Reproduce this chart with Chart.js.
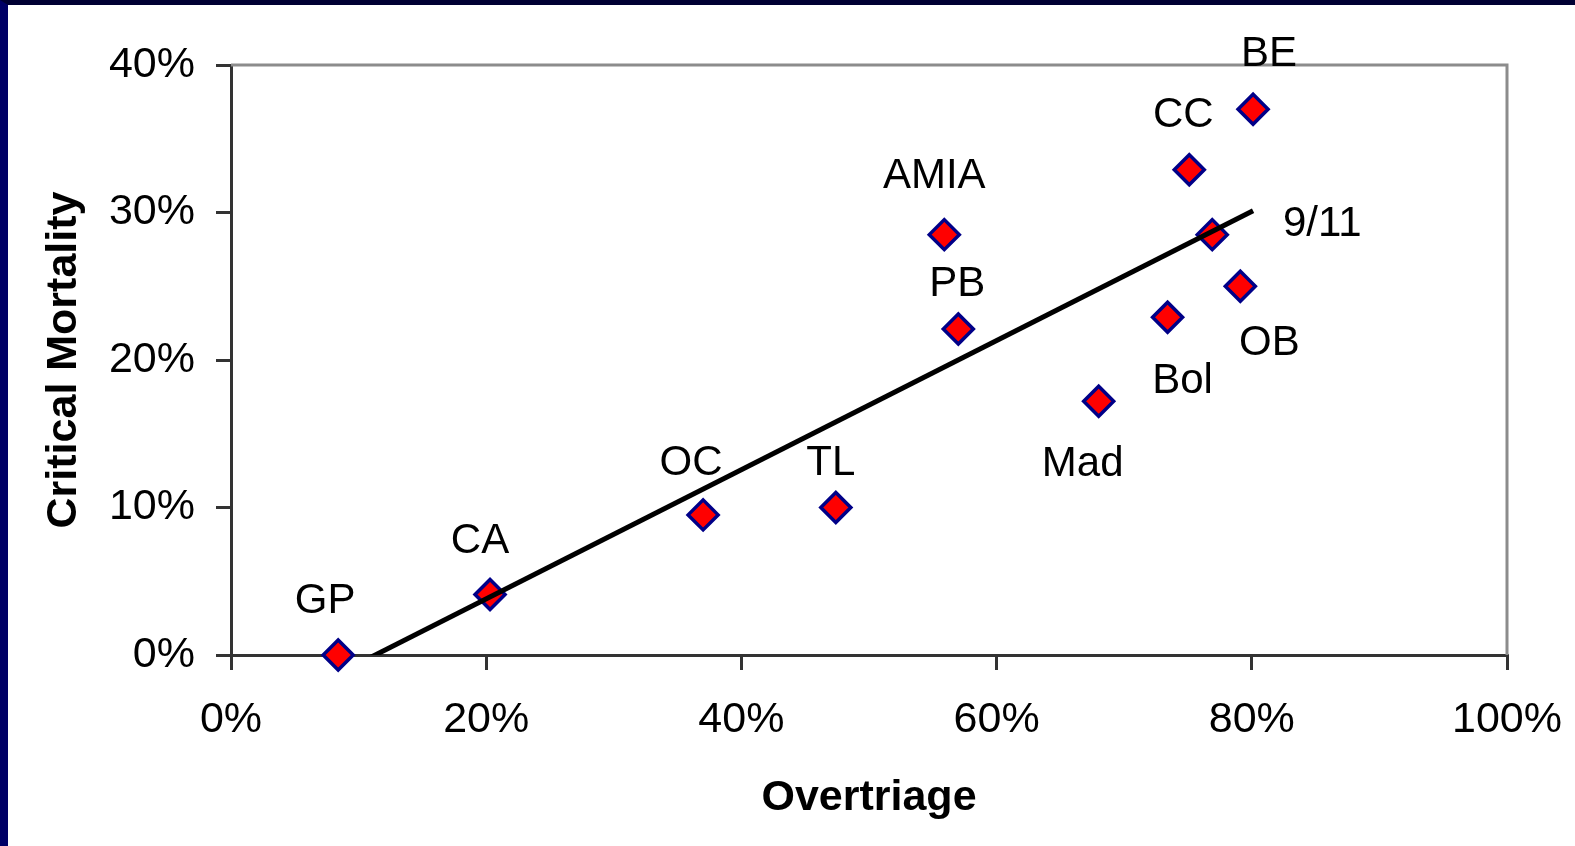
<!DOCTYPE html>
<html>
<head>
<meta charset="utf-8">
<script src="https://cdn.jsdelivr.net/npm/chart.js@4/dist/chart.umd.min.js"></script>
<style>
   html, body { margin: 0; padding: 0; background: #ffffff; }
   body { width: 1575px; height: 846px; overflow: hidden; }
   .frame {
      position: absolute; left: 0; top: 0;
      width: 1567px; height: 841px;
      border-top: 5px solid #000033;
      border-left: 8px solid #000066;
      background: #ffffff;
   }
   #graphique { display: block; }
</style>
</head>
<body>
<div class="frame">
   <canvas id="graphique" width="1567" height="841"></canvas>
</div>
<script>
// donnees (en %)
const incidents = ['GP', 'CA', 'OC', 'TL', 'AMIA', 'PB', 'Mad', 'Bol', 'CC', '9/11', 'OB', 'BE'];
const overtriage = [8.4, 20.3, 37.0, 47.4, 55.9, 57.0, 68.0, 73.4, 75.1, 76.9, 79.1, 80.1];
const mortality = [0.0, 4.1, 9.5, 10.0, 28.5, 22.1, 17.2, 22.9, 32.9, 28.5, 25.0, 37.0];
const xTicks = [0, 20, 40, 60, 80, 100];
const yTicks = [0, 10, 20, 30, 40];

// decalage des etiquettes par rapport au point (px)
const labelOffset = {
   'GP': [-13, -54], 'CA': [-10, -53], 'OC': [-12, -51], 'TL': [-5, -44],
   'AMIA': [-10, -58], 'PB': [-1, -45], 'Mad': [-16, 63], 'Bol': [15, 64],
   'CC': [-6, -54], '9/11': [110, -10], 'OB': [29, 57], 'BE': [16, -55]
};

const points = overtriage.map((x, i) => ({ x: x, y: mortality[i] }));

// courbe de tendance lineaire (moindres carres, comme Excel)
function trendline(xs, ys) {
   const n = xs.length;
   const mx = xs.reduce((a, b) => a + b, 0) / n;
   const my = ys.reduce((a, b) => a + b, 0) / n;
   let sxy = 0, sxx = 0;
   for (let i = 0; i < n; i++) {
      sxy += (xs[i] - mx) * (ys[i] - my);
      sxx += (xs[i] - mx) * (xs[i] - mx);
   }
   const slope = sxy / sxx;
   const inter = my - slope * mx;
   const x0 = Math.min(...xs), x1 = Math.max(...xs);
   return [{ x: x0, y: inter + slope * x0 }, { x: x1, y: inter + slope * x1 }];
}

const FONT = "'Liberation Sans', Arial, sans-serif";

const cadre = {
   id: 'cadre',
   beforeDatasetsDraw(chart) {
      const a = chart.chartArea;
      const c = chart.ctx;
      c.save();
      c.strokeStyle = '#8c8c8c';
      c.lineWidth = 3;
      c.beginPath();
      c.moveTo(a.left, a.top);
      c.lineTo(a.right, a.top);
      c.lineTo(a.right, a.bottom);
      c.stroke();
      c.restore();
   }
};

const etiquettes = {
   id: 'etiquettes',
   afterDatasetsDraw(chart) {
      const meta = chart.getDatasetMeta(1);
      const c = chart.ctx;
      c.save();
      c.font = '42px ' + FONT;
      c.fillStyle = '#000000';
      c.textAlign = 'center';
      c.textBaseline = 'middle';
      meta.data.forEach((pt, i) => {
         const off = labelOffset[incidents[i]] || [0, -50];
         c.fillText(incidents[i], pt.x + off[0], pt.y + off[1]);
      });
      c.restore();
   }
};

new Chart(document.getElementById('graphique'), {
   type: 'scatter',
   data: {
      datasets: [{
         type: 'line',
         label: 'Tendance',
         data: trendline(overtriage, mortality),
         borderColor: '#000000',
         borderWidth: 5,
         pointRadius: 0,
         fill: false,
         clip: 0,
         order: 0
      }, {
         label: 'Incidents',
         data: points,
         pointStyle: 'rectRot',
         pointRadius: 15,
         pointHoverRadius: 15,
         backgroundColor: '#ff0000',
         borderColor: '#000088',
         borderWidth: 3.5,
         clip: false,
         order: 1
      }]
   },
   plugins: [cadre, etiquettes],
   options: {
      responsive: false,
      animation: false,
      events: [],
      layout: { padding: { top: 60, right: 68, left: 0, bottom: 0 } },
      plugins: { legend: { display: false }, tooltip: { enabled: false } },
      scales: {
         x: {
            type: 'linear',
            min: 0, max: 100,
            afterFit: s => { s.height = 191; s.paddingLeft = 0; s.paddingRight = 0; },
            afterBuildTicks: s => { s.ticks = xTicks.map(v => ({ value: v })); },
            ticks: {
               callback: v => v + '%',
               font: { family: FONT, size: 43 },
               color: '#000000',
               padding: 24,
               maxRotation: 0
            },
            grid: { drawOnChartArea: false, drawTicks: true, tickLength: 15, color: '#333333', lineWidth: 3 },
            border: { color: '#333333', width: 3 },
            title: {
               display: true,
               text: 'Overtriage',
               font: { family: FONT, size: 43, weight: 'bold' },
               color: '#000000',
               padding: { top: 0, bottom: 22 }
            }
         },
         y: {
            type: 'linear',
            min: 0, max: 40,
            afterFit: s => { s.width = 223; s.paddingTop = 0; s.paddingBottom = 0; },
            afterBuildTicks: s => { s.ticks = yTicks.map(v => ({ value: v })); },
            ticks: {
               callback: v => v + '%',
               font: { family: FONT, size: 43 },
               color: '#000000',
               padding: 21
            },
            grid: { drawOnChartArea: false, drawTicks: true, tickLength: 15, color: '#333333', lineWidth: 3 },
            border: { color: '#333333', width: 3 },
            title: {
               display: true,
               text: 'Critical Mortality',
               font: { family: FONT, size: 43, weight: 'bold' },
               color: '#000000',
               padding: { top: 30, bottom: 0 }
            }
         }
      }
   }
});
</script>
</body>
</html>
